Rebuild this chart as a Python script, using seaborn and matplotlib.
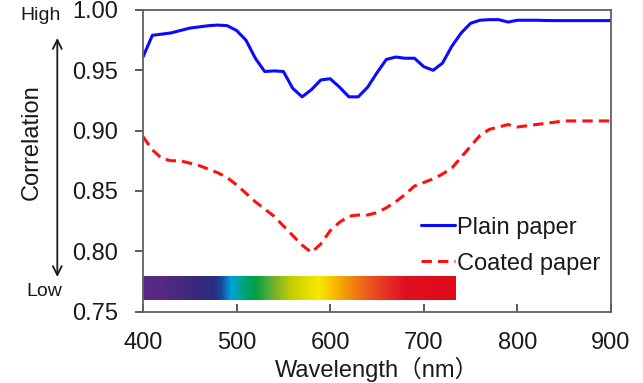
import numpy as np
import pandas as pd
import matplotlib
matplotlib.use("Agg")
import matplotlib.pyplot as plt
from matplotlib.colors import LinearSegmentedColormap
import seaborn as sns

wavelength = list(range(400, 901, 10))
plain_paper = [0.961, 0.979, 0.980, 0.981, 0.983, 0.985, 0.986, 0.987, 0.9875, 0.987,
               0.983, 0.975, 0.960, 0.949, 0.9495, 0.949, 0.935, 0.928, 0.934, 0.942,
               0.943, 0.936, 0.928, 0.928, 0.936, 0.948, 0.959, 0.961, 0.960, 0.960,
               0.953, 0.950, 0.956, 0.970, 0.981, 0.989, 0.9915, 0.992, 0.992, 0.990,
               0.9915, 0.9915, 0.9915, 0.9913, 0.9912, 0.9912, 0.9912, 0.9912, 0.9912, 0.9912,
               0.9912]
coated_paper = [0.895, 0.884, 0.877, 0.875, 0.875, 0.873, 0.871, 0.868, 0.865, 0.861,
                0.855, 0.848, 0.841, 0.835, 0.829, 0.821, 0.813, 0.805, 0.799, 0.806,
                0.817, 0.824, 0.829, 0.830, 0.830, 0.832, 0.836, 0.841, 0.847, 0.854,
                0.857, 0.860, 0.864, 0.869, 0.878, 0.887, 0.896, 0.901, 0.903, 0.905,
                0.903, 0.904, 0.905, 0.906, 0.907, 0.908, 0.908, 0.908, 0.908, 0.908,
                0.908]
series_names = ["Plain paper", "Coated paper"]
x_ticks = [400, 500, 600, 700, 800, 900]
y_ticks = [0.75, 0.80, 0.85, 0.90, 0.95, 1.00]

# visible spectrum band
spectrum_range = (400, 734)
spectrum_stops = [(400, "#5b2a86"), (420, "#532a84"), (460, "#36297b"), (475, "#2b2d80"),
                  (484, "#1a4c9e"), (493, "#00a0e0"), (505, "#00a38a"), (520, "#00a040"),
                  (540, "#74b22e"), (560, "#c8d200"), (588, "#f8e800"), (605, "#f8b800"),
                  (625, "#f08010"), (650, "#e84520"), (680, "#e01020"), (734, "#e00a1a")]

df = pd.DataFrame({
    "Wavelength": wavelength * 2,
    "Correlation": plain_paper + coated_paper,
    "Paper": [series_names[0]] * len(wavelength) + [series_names[1]] * len(wavelength),
})

sns.set_theme(style="white")
plt.rcParams["font.family"] = ["Liberation Sans", "Noto Sans CJK JP"]

FS = 17
TXT = "#1a1a1a"

fig = plt.figure(figsize=(6.43, 3.83), dpi=100)
ax = fig.add_axes([143 / 643, 1 - 311.5 / 383, 468 / 643, 301.5 / 383])

sns.lineplot(data=df, x="Wavelength", y="Correlation", hue="Paper", style="Paper",
             palette={"Plain paper": "#0a0aff", "Coated paper": "#ff1010"},
             dashes={"Plain paper": "", "Coated paper": (3.4, 2.0)},
             linewidth=2.2, ax=ax, legend=True)

# spectrum bar
lo, hi = spectrum_range
cmap = LinearSegmentedColormap.from_list(
    "spec", [((w - lo) / (hi - lo), c) for w, c in spectrum_stops])
grad = np.linspace(0, 1, 400).reshape(1, -1)
ax.imshow(grad, cmap=cmap, aspect="auto", extent=[lo, hi, 0.7594, 0.7787],
          interpolation="bilinear", zorder=1)

ax.set_xlim(400, 900)
ax.set_ylim(0.75, 1.00)
ax.set_xticks(x_ticks)
ax.set_yticks(y_ticks)
ax.set_xticklabels([str(t) for t in x_ticks])
ax.set_yticklabels([f"{t:.2f}" for t in y_ticks])
ax.tick_params(axis="x", direction="in", length=6, width=1.2, color="#404040",
               labelsize=FS, pad=15, labelcolor=TXT, bottom=True, top=False)
ax.tick_params(axis="y", direction="out", length=6, width=1.2, color="#404040",
               labelsize=FS, pad=12, labelcolor=TXT, left=True, right=False)
for s in ax.spines.values():
    s.set_color("#606060")
    s.set_linewidth(1.3)

ax.set_xlabel("Wavelength（nm）", fontsize=FS, color=TXT, labelpad=2)
ax.set_ylabel("Correlation", fontsize=FS, color=TXT)
ax.yaxis.set_label_coords(-0.214, 0.562)

handles, labels = ax.get_legend_handles_labels()
leg = ax.legend(handles=handles, labels=labels,
                loc="upper left", bbox_to_anchor=(0.595, 0.315), frameon=False,
                fontsize=FS, handlelength=1.4, handletextpad=0.1, labelspacing=0.6,
                borderpad=0, borderaxespad=0)
for t in leg.get_texts():
    t.set_color(TXT)

# High / Low arrow
fig.text(41 / 643, 1 - 15 / 383, "High", ha="center", va="center", fontsize=14, color=TXT)
fig.text(44 / 643, 1 - 291 / 383, "Low", ha="center", va="center", fontsize=14, color=TXT)
ax.annotate("", xy=(57.3 / 643, 1 - 38 / 383), xytext=(57.3 / 643, 1 - 277 / 383),
            xycoords="figure fraction", textcoords="figure fraction",
            arrowprops=dict(arrowstyle="<->", lw=1.3, color=TXT,
                            mutation_scale=16, shrinkA=0, shrinkB=0),
            annotation_clip=False)

fig.savefig("out.png", dpi=100)
